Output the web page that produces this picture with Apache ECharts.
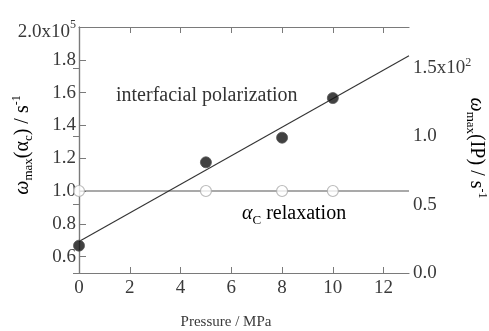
<!DOCTYPE html>
<html><head><meta charset="utf-8">
<script src="https://cdn.jsdelivr.net/npm/echarts@6/dist/echarts.min.js"></script>
<style>html,body{margin:0;padding:0;background:#fff}#c{width:489px;height:331px}</style>
</head><body><div id="c"></div>
<script>
// Data
var pressure = [0, 5, 8, 10];
var ipValues = [0.20, 0.81, 0.99, 1.28];      // right axis, x10^2 s^-1
var alphaValues = [1.0, 1.0, 1.0, 1.0];      // left axis, x10^5 s^-1
var fitX = [0, 13];
var fitIP = [0.23, 1.59];
var alphaLineX = [0, 13];
var alphaLineY = [1.0, 1.0];
var xTicks = [0, 2, 4, 6, 8, 10, 12];
var leftTicks = [0.6, 0.8, 1.0, 1.2, 1.4, 1.6, 1.8, 2.0];
var rightTicks = [0.0, 0.5, 1.0, 1.5];

var FONT = 'Liberation Serif';
var TXT = '#3a3a3a';
var AX = '#7a7a7a';
var chart = echarts.init(document.getElementById('c'));
function pairs(xs, ys){ return xs.map(function(x,i){return [x, ys[i]];}); }
var FS = 19;
var baseRich = {
  w:{fontFamily:FONT,fontStyle:'italic',fontSize:20,color:TXT,lineHeight:24},
  n:{fontFamily:FONT,fontSize:20,color:TXT,lineHeight:24},
  sub:{fontFamily:FONT,fontSize:13,color:TXT,lineHeight:8,verticalAlign:'bottom'},
  sup:{fontFamily:FONT,fontSize:12,color:TXT,lineHeight:8,verticalAlign:'top'},
  t:{fontFamily:FONT,fontSize:FS,color:TXT,lineHeight:22},
  ts:{fontFamily:FONT,fontSize:12,color:TXT,lineHeight:10,verticalAlign:'top'},
  t2:{fontFamily:FONT,fontSize:FS,color:TXT,lineHeight:22,padding:[10,0,0,0]},
  ts2:{fontFamily:FONT,fontSize:12,color:TXT,lineHeight:10,verticalAlign:'top',padding:[3,0,0,0]}
};
chart.setOption({
  animation:false,
  grid:{left:79,right:80,top:27,bottom:58,outerBoundsMode:'none'},
  xAxis:[{
    type:'value',min:0,max:13,interval:2,
    axisLine:{lineStyle:{color:AX,width:1.2}},
    axisTick:{inside:true,length:6,lineStyle:{color:AX},customValues:xTicks},
    axisLabel:{customValues:xTicks,fontFamily:FONT,fontSize:FS,color:TXT,margin:6},
    splitLine:{show:false}
  },{
    type:'value',min:0,max:13,position:'top',
    axisLine:{show:true,lineStyle:{color:AX,width:1.2}},
    axisTick:{inside:true,length:6,lineStyle:{color:AX},customValues:xTicks},
    axisLabel:{show:false},splitLine:{show:false}
  }],
  yAxis:[{
    type:'value',min:0.5,max:2.0,position:'left',
    axisLine:{show:true,lineStyle:{color:AX,width:1.2}},
    axisTick:{show:true,inside:true,length:7,lineStyle:{color:AX},customValues:leftTicks},
    axisLabel:{customValues:leftTicks,fontFamily:FONT,fontSize:FS,color:TXT,margin:3,
      formatter:function(v){ return Math.abs(v-2.0)<1e-6 ? '{t2|2.0x10}{ts2|5}' : '{t|'+v.toFixed(1)+'}'; },
      rich:{t:baseRich.t,ts:baseRich.ts,t2:baseRich.t2,ts2:baseRich.ts2}},
    splitLine:{show:false}
  },{
    type:'value',min:0,max:1.8,position:'right',
    axisLine:{show:true,lineStyle:{color:AX,width:1.2}},
    axisTick:{show:true,inside:true,length:6,lineStyle:{color:AX},customValues:rightTicks},
    axisLabel:{customValues:rightTicks,fontFamily:FONT,fontSize:FS,color:TXT,margin:4,
      formatter:function(v){ return Math.abs(v-1.5)<1e-6 ? '{t|1.5x10}{ts|2}' : '{t|'+v.toFixed(1)+'}'; },
      rich:{t:baseRich.t,ts:baseRich.ts}},
    splitLine:{show:false}
  }],
  series:[
    {type:'line',yAxisIndex:0,data:pairs(alphaLineX,alphaLineY),symbol:'none',
      lineStyle:{color:'#555',width:1.2},z:2},
    {type:'line',yAxisIndex:1,data:pairs(fitX,fitIP),symbol:'none',
      lineStyle:{color:'#333',width:1.1},z:2},
    {type:'scatter',yAxisIndex:0,data:pairs(pressure,alphaValues),symbol:'circle',symbolSize:11,
      itemStyle:{color:'#fff',borderColor:'#aaa',borderWidth:1.2},z:3},
    {type:'scatter',yAxisIndex:1,data:pairs(pressure,ipValues),symbol:'circle',symbolSize:11,
      itemStyle:{color:'#111',borderColor:'#555',borderWidth:1},z:4}
  ],
  graphic:[
    {type:'text',x:226,y:322,style:{text:'Pressure / MPa',font:'15px "Liberation Serif"',fill:TXT,align:'center',verticalAlign:'middle'}},
    {type:'text',x:116,y:96,style:{text:'interfacial polarization',font:'20px "Liberation Serif"',fill:'#333',verticalAlign:'middle'}},
    {type:'text',x:242,y:214,style:{text:'{w|α}{subC|C}{n| relaxation}',verticalAlign:'middle',
      rich:{w:{fontFamily:FONT,fontStyle:'italic',fontSize:20,color:'#333',lineHeight:26},
            subC:{fontFamily:FONT,fontSize:13,color:'#333',lineHeight:10,verticalAlign:'bottom'},
            n:{fontFamily:FONT,fontSize:20,color:'#333',lineHeight:26}}}},
    {type:'text',x:23,y:145,rotation:Math.PI/2,
      style:{text:'{w|ω}{sub|max}{n|(α}{sub|c}{n|) / s}{sup|-1}',rich:baseRich,align:'center',verticalAlign:'middle'}},
    {type:'text',x:476,y:148,rotation:-Math.PI/2,
      style:{text:'{w|ω}{sub|max}{n|(IP) / s}{sup|-1}',rich:baseRich,align:'center',verticalAlign:'middle'}}
  ]
});
</script></body></html>
